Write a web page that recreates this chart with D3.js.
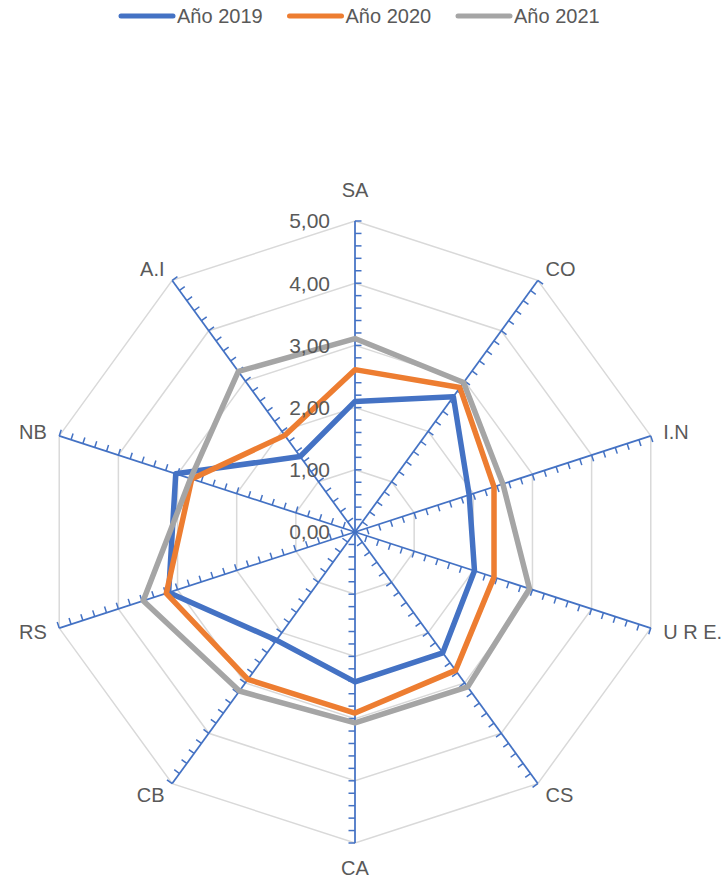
<!DOCTYPE html>
<html>
<head>
<meta charset="utf-8">
<script src="https://cdn.jsdelivr.net/npm/d3@7"></script>
<style>
  body { margin: 0; background: #fff; }
  text { font-family: "Liberation Sans", Arial, sans-serif; fill: #595959; }
</style>
</head>
<body>
<div id="chart"></div>
<script>

// ### DATA
var categories = ['SA', 'CO', 'I.N', 'U R E.', 'CS', 'CA', 'CB', 'RS', 'NB', 'A.I'];
var seriesNames = ['Año 2019', 'Año 2020', 'Año 2021'];
var values2019 = [2.10, 2.69, 1.93, 2.02, 2.40, 2.41, 2.15, 3.15, 3.03, 1.50];
var values2020 = [2.61, 2.87, 2.35, 2.35, 2.75, 2.91, 2.93, 3.19, 2.76, 1.92];
var values2021 = [3.11, 2.97, 2.50, 2.95, 3.08, 3.07, 3.16, 3.58, 2.78, 3.19];
var tickValues = [0, 1, 2, 3, 4, 5];
var colors = ['#4472C4', '#ED7D31', '#A5A5A5'];

var series = [values2019, values2020, values2021];

// ### LAYOUT
var width = 725, height = 882;
var cx = 355, cy = 532, R = 311;

var svg = d3.select('#chart').append('svg')
  .attr('width', width)
  .attr('height', height);

var r = d3.scaleLinear().domain([0, 5]).range([0, R]);
var angle = d3.scaleLinear().domain([0, categories.length]).range([0, 2 * Math.PI]);

var g = svg.append('g').attr('transform', 'translate(' + cx + ',' + cy + ')');

function pt(i, v) {
  var a = angle(i);
  return [Math.sin(a) * r(v), -Math.cos(a) * r(v)];
}

// grid polygons
g.selectAll('path.grid')
  .data(tickValues.slice(1))
  .enter().append('path')
  .attr('class', 'grid')
  .attr('fill', 'none')
  .attr('stroke', '#D9D9D9')
  .attr('stroke-width', 1.5)
  .attr('d', function(v) {
    return d3.line()(categories.map(function(c, i) { return pt(i, v); })) + 'Z';
  });

// axes with minor ticks
var minorTicks = d3.range(1, 26).map(function(k) { return k * 0.2; });

categories.forEach(function(c, i) {
  var a = angle(i);
  var dx = Math.sin(a), dy = -Math.cos(a);
  var px = -dy, py = dx; // tick direction
  var end = pt(i, 5);
  g.append('line')
    .attr('x1', 0).attr('y1', 0)
    .attr('x2', end[0]).attr('y2', end[1])
    .attr('stroke', '#4472C4')
    .attr('stroke-width', 1.75);
  g.selectAll(null)
    .data(minorTicks)
    .enter().append('line')
    .attr('x1', function(v) { return dx * r(v); })
    .attr('y1', function(v) { return dy * r(v); })
    .attr('x2', function(v) { return dx * r(v) + px * 6.5; })
    .attr('y2', function(v) { return dy * r(v) + py * 6.5; })
    .attr('stroke', '#4472C4')
    .attr('stroke-width', 1.5);
});

// series lines
var radial = d3.lineRadial()
  .angle(function(d, i) { return angle(i); })
  .radius(function(d) { return r(d); })
  .curve(d3.curveLinearClosed);

g.selectAll('path.series')
  .data(series)
  .enter().append('path')
  .attr('class', 'series')
  .attr('fill', 'none')
  .attr('stroke', function(d, i) { return colors[i]; })
  .attr('stroke-width', 5.5)
  .attr('stroke-linejoin', 'round')
  .attr('d', radial);

// value labels
var fmt = d3.format('.2f');
g.selectAll('text.tick')
  .data(tickValues)
  .enter().append('text')
  .attr('class', 'tick')
  .attr('x', -25)
  .attr('y', function(v) { return -r(v); })
  .attr('dy', '0.35em')
  .attr('text-anchor', 'end')
  .style('font-size', '21px')
  .text(function(v) { return fmt(v).replace('.', ','); });

// category labels
g.selectAll('text.cat')
  .data(categories)
  .enter().append('text')
  .attr('class', 'cat')
  .style('font-size', '20px')
  .attr('x', function(c, i) {
    var s = Math.sin(angle(i));
    return Math.abs(s) < 0.1 ? 0 : s * (R + 13);
  })
  .attr('y', function(c, i) {
    var co = -Math.cos(angle(i));
    var s = Math.sin(angle(i));
    if (Math.abs(s) < 0.1) return co > 0 ? co * (R + 25) : co * (R + 31);
    return co * (R + 14);
  })
  .attr('dy', '0.35em')
  .attr('text-anchor', function(c, i) {
    var s = Math.sin(angle(i));
    return s > 0.1 ? 'start' : (s < -0.1 ? 'end' : 'middle');
  })
  .text(function(c) { return c; });

// legend
var legend = svg.append('g');
var lx = d3.scaleLinear().domain([0, 1]).range([121, 289.5]);
var item = legend.selectAll('g')
  .data(seriesNames)
  .enter().append('g')
  .attr('transform', function(d, i) { return 'translate(' + lx(i) + ',16)'; });
item.append('line')
  .attr('x1', 0).attr('x2', 52)
  .attr('stroke', function(d, i) { return colors[i]; })
  .attr('stroke-width', 5)
  .attr('stroke-linecap', 'round');
item.append('text')
  .attr('x', 56)
  .attr('dy', '0.35em')
  .style('font-size', '20px')
  .text(function(d) { return d; });

</script>
</body>
</html>
